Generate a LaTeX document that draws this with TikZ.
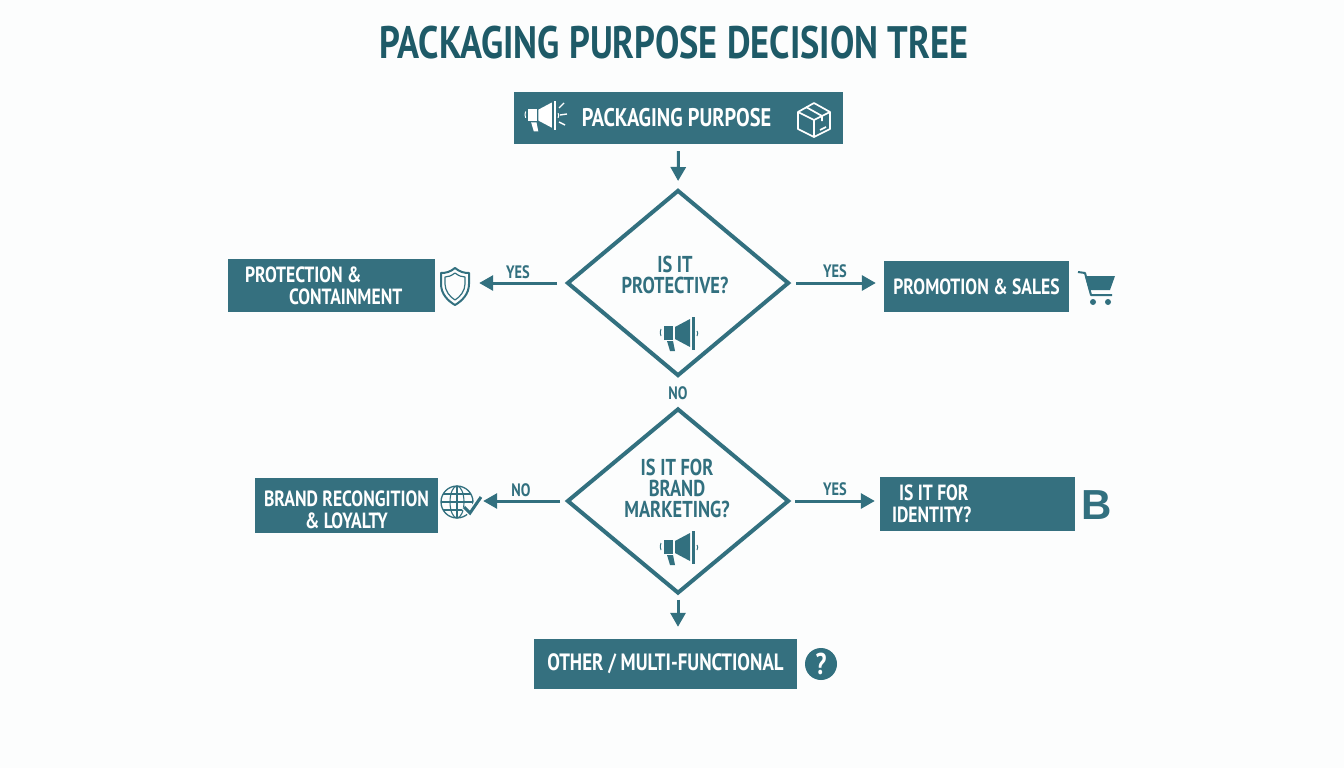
\documentclass[tikz,border=0pt]{standalone}
\usepackage{xcolor}
\usepackage{fontspec}
\setmainfont[FakeStretch=0.8]{PT Sans}
\newfontfamily\letterfont{Liberation Sans}
\usetikzlibrary{shapes.geometric,arrows.meta}
\definecolor{tealbox}{HTML}{35707F}
\definecolor{tealline}{HTML}{32707F}
\definecolor{tealtitle}{HTML}{1E5A67}
\definecolor{pagebg}{HTML}{FCFDFD}
\tikzset{
  pics/megaphone/.style={code={
    \fill [#1] (-14,-8) rectangle (-5,6);
    \fill [#1] (-3,-7) -- (12,-15) -- (12,13) -- (-3,5) -- cycle;
    \fill [#1] (14,-17) rectangle (17,16);
    \fill [#1] (-11,7) -- (-5,7) -- (-3,17) -- (-8,17) -- cycle;
    \draw [#1, line width=1pt] (-17,-5) .. controls (-18,-2) .. (-17,2);
    \draw [#1, line width=1pt] (19,-3) .. controls (20,-1) .. (19,2);
  }},
  pics/parcel/.style={code={
    \draw [#1, line width=1.7pt, line join=round] (0,-17) -- (16,-8) -- (16,9) -- (0,17) -- (-16,9) -- (-16,-8) -- cycle;
    \draw [#1, line width=1.7pt, line join=round] (-16,-8) -- (0,0) -- (16,-8) (0,0) -- (0,17);
    \draw [#1, line width=1.7pt, line join=round] (-8,-13) -- (8,-4) -- (8,1);
    \draw [#1, line width=1.7pt] (6,10) -- (12,7);
  }},
  pics/shield/.style={code={
    \draw [#1, line width=2pt, line join=round] (0,-18) .. controls (5,-14) and (9,-13) .. (14,-13) -- (14,-2) .. controls (14,8) and (7,15) .. (0,19) .. controls (-7,15) and (-14,8) .. (-14,-2) -- (-14,-13) .. controls (-9,-13) and (-5,-14) .. (0,-18) -- cycle;
    \draw [#1, line width=1.2pt, line join=round] (0,-13) .. controls (4,-10) and (7,-9) .. (10,-9) -- (10,-2) .. controls (10,5) and (5,11) .. (0,14) .. controls (-5,11) and (-10,5) .. (-10,-2) -- (-10,-9) .. controls (-7,-9) and (-4,-10) .. (0,-13) -- cycle;
  }},
  pics/cart/.style={code={
    \draw [#1, line width=2pt, line join=round] (-19,-16) -- (-12,-15) -- (-6,7) -- (15,7);
    \fill [#1] (-12,-12) -- (18,-12) -- (13,2) -- (-8,2) -- cycle;
    \fill [#1] (-4,14) circle (3);
    \fill [#1] (11,14) circle (3);
  }},
  pics/globecheck/.style={code={
    \draw [#1, line width=1.3pt] (0,0) circle (16);
    \draw [#1, line width=1.1pt] (0,0) ellipse (7 and 16);
    \draw [#1, line width=1.1pt] (0,-16) -- (0,16) (-16,0) -- (16,0);
    \draw [#1, line width=1.1pt] (-14,-8) -- (14,-8) (-14,8) -- (14,8);
    \draw [pagebg, line width=6pt] (7,5) -- (13,11) -- (24,-5);
    \draw [#1, line width=3pt] (7,5) -- (13,11) -- (24,-5);
  }}
}
\begin{document}
\begin{tikzpicture}[x=1pt,y=-1pt]
  \tikzstyle{every node}+=[inner sep=0pt, font=\bfseries]
  \tikzstyle{flowbox}=[draw=none, fill=tealbox, text=white, font=\bfseries\fontsize{22}{22}\selectfont, align=center]
  \tikzstyle{flowdiamond}=[diamond, draw=tealline, line width=4pt, line join=miter, fill=none]
  \tikzstyle{flowlabel}=[text=tealline, font=\bfseries\fontsize{23}{21}\selectfont, align=center]
  \tikzstyle{branchlabel}=[text=tealline, font=\bfseries\fontsize{18}{18}\selectfont]
  \tikzstyle{flowarrow}=[draw=tealline, line width=3pt, -{Triangle[length=14pt,width=15pt]}]
  \fill [pagebg] (0,0) rectangle (1344,768);
  \useasboundingbox (0,0) rectangle (1344,768);
  \node [text=tealtitle, font=\bfseries\fontsize{45.5}{46}\selectfont] (title) at (674,43) {PACKAGING PURPOSE DECISION TREE};
  \node [flowbox, font=\bfseries\fontsize{25.5}{26}\selectfont, minimum width=329pt, minimum height=52pt] (purpose) at (678.5,118) {\hspace*{-4pt}PACKAGING PURPOSE};
  \node [flowdiamond, minimum width=222pt, minimum height=186pt] (protective) at (678,283) {};
  \node [flowlabel] (protectivetext) at (675,275) {IS IT\\PROTECTIVE?};
  \node [flowbox, minimum width=207pt, minimum height=53pt, text width=173pt, align=flush left] (protection) at (331.5,285.5) {PROTECTION \&\\\hspace*{44pt}CONTAINMENT};
  \node [flowbox, minimum width=185pt, minimum height=51pt] (promotion) at (976.5,286.5) {PROMOTION \& SALES};
  \node [flowdiamond, minimum width=222pt, minimum height=185pt] (marketing) at (678,501) {};
  \node [flowlabel] (marketingtext) at (677,488) {IS IT FOR\\BRAND\\MARKETING?};
  \node [flowbox, minimum width=183pt, minimum height=55pt] (loyalty) at (346.5,505.5) {\rule{0pt}{24pt}BRAND RECONGITION\\\& LOYALTY};
  \node [flowbox, minimum width=195pt, minimum height=54pt, text width=171pt, align=flush left] (identity) at (977.5,504) {\hspace*{7pt}IS IT FOR\\IDENTITY?};
  \node [flowbox, font=\bfseries\fontsize{23.6}{24}\selectfont, minimum width=263pt, minimum height=50pt] (other) at (665.5,664) {OTHER / MULTI-FUNCTIONAL};
  \draw [flowarrow, shorten <=7pt, shorten >=7pt] (purpose.south) -- (protective.north);
  \draw [flowarrow, shorten <=8pt, shorten >=44pt] (protective.west) -- (protective.west -| protection.east);
  \draw [flowarrow, shorten <=5pt, shorten >=8pt] (protective.east) -- (protective.east -| promotion.west);
  \draw [flowarrow, shorten <=5pt, shorten >=45pt] (marketing.west) -- (marketing.west -| loyalty.east);
  \draw [flowarrow, shorten <=4pt, shorten >=5pt] (marketing.east) -- (marketing.east -| identity.west);
  \draw [flowarrow, shorten <=4pt, shorten >=12pt] (marketing.south) -- (other.north -| marketing.south);
  \node [branchlabel] (yesprotection) at (518,272) {YES};
  \node [branchlabel] (yespromotion) at (835,271) {YES};
  \node [branchlabel] (noprotective) at (678,393) {NO};
  \node [branchlabel] (noloyalty) at (521,490) {NO};
  \node [branchlabel] (yesidentity) at (835,489) {YES};
  \pic [scale=0.9] at (541,116) {megaphone=white};
  \draw [white, line width=1.4pt] (559,108) -- (564,103) (560,115) -- (567,114) (559,122) -- (565,125);
  \pic at (814,120) {parcel=white};
  \pic at (678,334) {megaphone=tealline};
  \pic at (678,548) {megaphone=tealline};
  \pic at (455,286) {shield=tealline};
  \pic at (1097,288) {cart=tealline};
  \pic at (457,502) {globecheck=tealline};
  \node [text=tealline, font={\letterfont\bfseries\fontsize{42}{42}\selectfont}] (brandletter) at (1097,505) {B};
  \node [circle, fill=tealline, text=white, minimum size=32pt, font=\bfseries\fontsize{30}{30}\selectfont] (question) at (821,664) {?};
\end{tikzpicture}
\end{document}
